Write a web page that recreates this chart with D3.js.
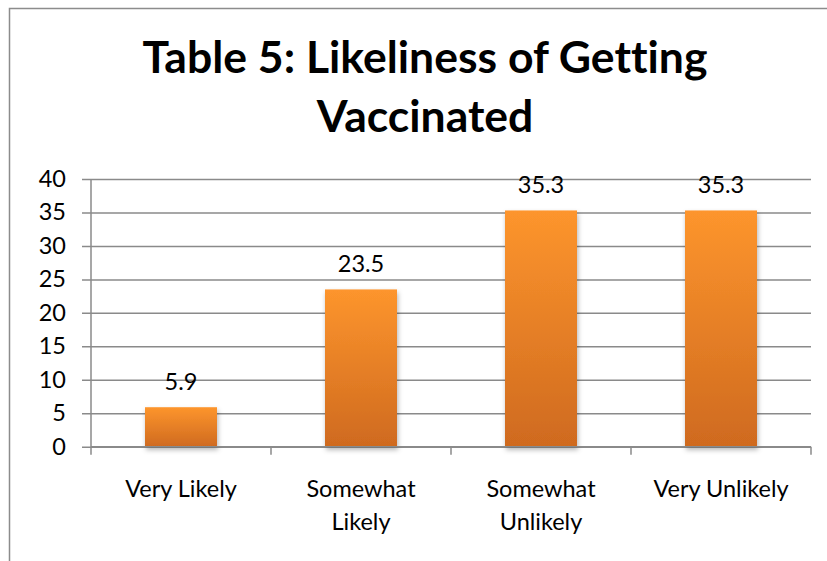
<!DOCTYPE html>
<html>
<head>
<meta charset="utf-8">
<script src="https://cdn.jsdelivr.net/npm/d3@7"></script>
<style>
  body { margin: 0; background: #fff; }
  svg { display: block; font-family: Lato, "Open Sans", sans-serif; font-variant-ligatures: none; }
</style>
</head>
<body>
<svg id="chart" width="827" height="561"></svg>
<script>
'use strict';

// Adatok
var titleLines = ["Table 5: Likeliness of Getting", "Vaccinated"];
var categories = [["Very Likely"], ["Somewhat", "Likely"], ["Somewhat", "Unlikely"], ["Very Unlikely"]];
var values = [5.9, 23.5, 35.3, 35.3];
var yTicks = [0, 5, 10, 15, 20, 25, 30, 35, 40];

var svg = d3.select("#chart");
var gridColor = "#8a8a8a";
var labelSize = 23.5;

var plot = {left: 91, right: 811, top: 179, bottom: 446.7};

var keys = categories.map(function(c) { return c.join(" "); });

var x = d3.scaleBand()
		.domain(keys)
		.range([plot.left, plot.right])
		.paddingInner(0.6)
		.paddingOuter(0.3);

var y = d3.scaleLinear()
		.domain([0, 40])
		.range([plot.bottom, plot.top]);

// Gradiens és árnyék
var defs = svg.append("defs");
var grad = defs.append("linearGradient")
		.attr("id", "barGrad")
		.attr("x1", 0).attr("y1", 0)
		.attr("x2", 0).attr("y2", 1);
grad.append("stop").attr("offset", "0%").attr("stop-color", "#fd952d");
grad.append("stop").attr("offset", "100%").attr("stop-color", "#cf6a1f");

var shadow = defs.append("filter")
		.attr("id", "barShadow")
		.attr("x", "-20%").attr("y", "-20%")
		.attr("width", "150%").attr("height", "150%");
shadow.append("feDropShadow")
		.attr("dx", 1).attr("dy", 3)
		.attr("stdDeviation", 2.5)
		.attr("flood-color", "#000")
		.attr("flood-opacity", 0.3);

// Keret
svg.append("rect")
		.attr("x", 9.5).attr("y", 8.5)
		.attr("width", 900).attr("height", 700)
		.attr("fill", "none")
		.attr("stroke", "#8c8c8c")
		.attr("stroke-width", 1.5);

// Cím
svg.append("text")
		.attr("x", 425)
		.attr("text-anchor", "middle")
		.attr("font-weight", "bold")
		.attr("font-size", 44.5)
		.attr("fill", "#000")
		.selectAll("tspan").data(titleLines)
		.enter().append("tspan")
		.attr("x", 425)
		.attr("y", function(d, i) { return 73 + i * 59; })
		.text(function(d) { return d; });

// Rácsvonalak és Y tengely
var yAxis = d3.axisLeft(y)
		.tickValues(yTicks)
		.tickSize(-(plot.right - plot.left))
		.tickPadding(16)
		.tickFormat(d3.format("d"));

var gY = svg.append("g")
		.attr("transform", "translate(" + plot.left + ",0)")
		.call(yAxis);
gY.select(".domain").remove();
gY.selectAll(".tick line")
		.attr("x1", -9)
		.attr("stroke", gridColor)
		.attr("stroke-width", 1.5);
gY.selectAll(".tick text")
		.attr("font-size", labelSize)
		.attr("font-family", "Lato, sans-serif")
		.attr("fill", "#000")
		.attr("x", -25);

svg.append("line")
		.attr("x1", plot.left).attr("x2", plot.left)
		.attr("y1", plot.top).attr("y2", plot.bottom + 8)
		.attr("stroke", gridColor)
		.attr("stroke-width", 1.5);

// Kategória-jelölők
var bounds = keys.map(function(k) { return x(k) - x.step() * x.paddingInner() / 2; });
bounds.push(plot.right);
svg.append("g").selectAll("line").data(bounds.slice(1))
		.enter().append("line")
		.attr("x1", function(d) { return d; })
		.attr("x2", function(d) { return d; })
		.attr("y1", plot.bottom)
		.attr("y2", plot.bottom + 8)
		.attr("stroke", gridColor)
		.attr("stroke-width", 1.5);

// Oszlopok
svg.append("g").selectAll("rect").data(values)
		.enter().append("rect")
		.attr("x", function(d, i) { return x(keys[i]); })
		.attr("y", function(d) { return y(d); })
		.attr("width", x.bandwidth())
		.attr("height", function(d) { return y(0) - y(d); })
		.attr("fill", "url(#barGrad)")
		.attr("filter", "url(#barShadow)");

// Alapvonal
svg.append("line")
		.attr("x1", plot.left).attr("x2", plot.right)
		.attr("y1", plot.bottom).attr("y2", plot.bottom)
		.attr("stroke", gridColor)
		.attr("stroke-width", 1.5);

// Értékfeliratok
svg.append("g").selectAll("text").data(values)
		.enter().append("text")
		.attr("x", function(d, i) { return x(keys[i]) + x.bandwidth() / 2; })
		.attr("y", function(d) { return y(d) - 17.5; })
		.attr("text-anchor", "middle")
		.attr("font-size", labelSize)
		.attr("fill", "#000")
		.text(function(d) { return d3.format(".1f")(d); });

// Kategóriafeliratok
var gX = svg.append("g").selectAll("text").data(categories)
		.enter().append("text")
		.attr("text-anchor", "middle")
		.attr("font-size", labelSize)
		.attr("fill", "#000");
gX.selectAll("tspan").data(function(d, i) {
			return d.map(function(line) { return {line: line, key: keys[i]}; });
		})
		.enter().append("tspan")
		.attr("x", function(d) { return x(d.key) + x.bandwidth() / 2; })
		.attr("y", function(d, j) { return 497 + j * 33; })
		.text(function(d) { return d.line; });
</script>
</body>
</html>
